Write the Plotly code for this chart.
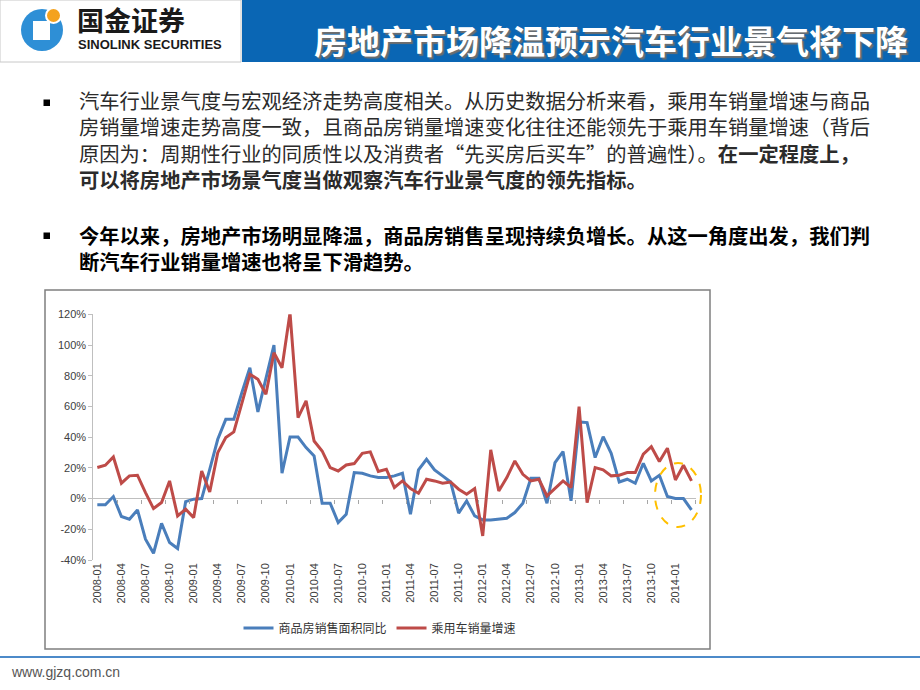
import plotly.graph_objects as go

# ---------------- data ----------------
start_year, start_month, n_months = 2008, 1, 75
months = [f"{start_year + (start_month - 1 + k) // 12}-{(start_month - 1 + k) % 12 + 1:02d}" for k in range(n_months)]

tick_labels = ["2008-01", "2008-04", "2008-07", "2008-10", "2009-01", "2009-04", "2009-07",
               "2009-10", "2010-01", "2010-04", "2010-07", "2010-10", "2011-01", "2011-04",
               "2011-07", "2011-10", "2012-01", "2012-04", "2012-07", "2012-10", "2013-01",
               "2013-04", "2013-07", "2013-10", "2014-01"]

housing_sales_yoy = [  # 商品房销售面积同比 (%)
    -4.1, -4.1, 1.3, -11.7, -13.4, -7.4, -26.5, -35.6, -16.1, -28.6, -32.5, -2.0,
    -0.4, 0.0, 19.0, 38.6, 51.6, 51.6, 69.0, 85.2, 56.4, 77.7, 100.0, 16.5,
    40.1, 40.1, 33.2, 27.8, -3.0, -3.0, -15.6, -10.2, 16.9, 16.5, 14.8, 13.7,
    13.7, 14.8, 16.5, -10.2, 18.7, 25.6, 18.7, 14.8, 10.8, -9.5, -1.5, -11.3,
    -13.9, -13.9, -13.4, -12.8, -9.1, -3.0, 13.2, 13.2, -3.0, 23.4, 30.6, -1.5,
    49.9, 49.5, 26.7, 40.3, 29.5, 10.8, 12.6, 10.0, 23.0, 11.5, 15.2, 1.3,
    0.0, 0.0, -7.4]

car_sales_growth = [  # 乘用车销量增速 (%)
    20.2, 21.7, 27.1, 10.0, 14.8, 15.2, 3.9, -6.5, -2.6, 11.5, -11.3, -6.9,
    -12.4, 18.0, 4.3, 29.9, 39.7, 43.4, 62.0, 80.9, 77.7, 67.9, 95.0, 85.2,
    121.0, 52.7, 63.6, 37.5, 31.0, 20.2, 18.0, 21.9, 22.8, 29.5, 30.4, 17.6,
    19.1, 7.2, 11.5, 6.5, 3.5, 12.6, 11.5, 10.0, 10.8, 6.1, 2.8, 6.5,
    -24.3, 31.7, 5.0, 13.7, 24.5, 15.8, 11.5, 12.6, 1.7, 6.5, 11.5, 7.2,
    59.9, -2.6, 20.2, 18.7, 14.8, 15.2, 16.9, 16.9, 28.9, 33.8, 24.1, 32.8,
    12.1, 21.7, 11.5]

series_names = ["商品房销售面积同比", "乘用车销量增速"]
y_ticks = [-40, -20, 0, 20, 40, 60, 80, 100, 120]

title_text = "房地产市场降温预示汽车行业景气将下降"
para1_lines = [
    "汽车行业景气度与宏观经济走势高度相关。从历史数据分析来看，乘用车销量增速与商品",
    "房销量增速走势高度一致，且商品房销量增速变化往往还能领先于乘用车销量增速（背后",
    "原因为：周期性行业的同质性以及消费者“先买房后买车”的普遍性）。<b>在一定程度上，</b>",
    "<b>可以将房地产市场景气度当做观察汽车行业景气度的领先指标。</b>",
]
para2_lines = [
    "<b>今年以来，房地产市场明显降温，商品房销售呈现持续负增长。从这一角度出发，我们判</b>",
    "<b>断汽车行业销量增速也将呈下滑趋势。</b>",
]

# ---------------- layout helpers ----------------
W, H = 920, 690
def px(x):
    return x / W
def py(y):
    return 1 - y / H

CJK = "Noto Sans CJK SC"
x_idx = list(range(n_months))
tick_idx = [months.index(t) for t in tick_labels]
boundary_ticks = [i - 0.5 for i in range(3, n_months + 1, 3)]

plot_top, plot_bot = 314.3, 560.0
ydom = [py(plot_bot), py(plot_top)]
zero_pos = ydom[0] + (0 - y_ticks[0]) / (y_ticks[-1] - y_ticks[0]) * (ydom[1] - ydom[0])

fig = go.Figure()
fig.add_trace(go.Scatter(x=x_idx, y=housing_sales_yoy, mode="lines", name=series_names[0],
                         line=dict(color="#4A7EBB", width=3), hoverinfo="skip"))
fig.add_trace(go.Scatter(x=x_idx, y=car_sales_growth, mode="lines", name=series_names[1],
                         line=dict(color="#BE4B48", width=3), hoverinfo="skip"))
# carrier for the category tick marks drawn on the 0% line
fig.add_trace(go.Scatter(x=x_idx, y=housing_sales_yoy, xaxis="x2", mode="lines",
                         line=dict(width=0), opacity=0, showlegend=False, hoverinfo="skip"))

shapes = [
    # header
    dict(type="rect", xref="paper", yref="paper", x0=px(0), x1=px(241), y0=py(62), y1=py(0),
         fillcolor="white", line=dict(color="#C8C8C8", width=1), layer="below"),
    dict(type="rect", xref="paper", yref="paper", x0=px(242), x1=px(920), y0=py(62), y1=py(0),
         fillcolor="#0A66B4", line=dict(width=0), layer="below"),
    # logo
    dict(type="circle", xref="paper", yref="paper", x0=px(21), x1=px(63), y0=py(51), y1=py(9),
         fillcolor="#2E8FD6", line=dict(width=0)),
    dict(type="rect", xref="paper", yref="paper", x0=px(33), x1=px(50), y0=py(40), y1=py(21),
         fillcolor="white", line=dict(width=0)),
    dict(type="circle", xref="paper", yref="paper", x0=px(46), x1=px(61), y0=py(23), y1=py(8),
         fillcolor="#F4A21E", line=dict(color="white", width=2)),
    # chart frame
    dict(type="rect", xref="paper", yref="paper", x0=px(45), x1=px(710), y0=py(649), y1=py(290),
         fillcolor="rgba(0,0,0,0)", line=dict(color="#7F7F7F", width=1.5), layer="below"),
    # highlight ellipse
    dict(type="circle", xref="paper", yref="paper", x0=px(655), x1=px(701), y0=py(527), y1=py(463),
         fillcolor="rgba(0,0,0,0)", line=dict(color="#FFC000", width=2, dash="dash")),
    # footer line
    dict(type="line", xref="paper", yref="paper", x0=0, x1=1, y0=py(657), y1=py(657),
         line=dict(color="#4C8AC9", width=2)),
    # bullets
    dict(type="rect", xref="paper", yref="paper", x0=px(43.5), x1=px(50), y0=py(106), y1=py(99.5),
         fillcolor="#000000", line=dict(width=0)),
    dict(type="rect", xref="paper", yref="paper", x0=px(43.5), x1=px(50), y0=py(239), y1=py(232.5),
         fillcolor="#000000", line=dict(width=0)),
]

annotations = [
    dict(text="<b>国金证券</b>", x=px(75), y=py(19.5), xanchor="left", yanchor="middle",
         font=dict(family=CJK, size=27, color="#1A1A1A"), showarrow=False, xref="paper", yref="paper"),
    dict(text="<b>SINOLINK SECURITIES</b>", x=px(76), y=py(44.5), xanchor="left", yanchor="middle",
         font=dict(family="Liberation Sans", size=13, color="#1A1A1A"), showarrow=False,
         xref="paper", yref="paper"),
    dict(text="<b>" + title_text + "</b>", x=px(611), y=py(40), xanchor="center", yanchor="middle",
         font=dict(family=CJK, size=33, color="white", shadow="2px 2px 1px #6E6E6E"),
         showarrow=False, xref="paper", yref="paper"),
    dict(text="www.gjzq.com.cn", x=px(9), y=py(672), xanchor="left", yanchor="middle",
         font=dict(family="Liberation Sans", size=14, color="#555555"), showarrow=False,
         xref="paper", yref="paper"),
    dict(text="<br>".join(para1_lines), x=px(77), y=py(139.8), xanchor="left", yanchor="middle",
         align="left", font=dict(family=CJK, size=20.3, color="#2B2B2B"),
         showarrow=False, xref="paper", yref="paper"),
    dict(text="<br>".join(para2_lines), x=px(77), y=py(248.5), xanchor="left", yanchor="middle",
         align="left", font=dict(family=CJK, size=20.3, color="#000000"),
         showarrow=False, xref="paper", yref="paper"),
]

fig.update_layout(
    template="none",
    width=W, height=H,
    margin=dict(l=0, r=0, t=0, b=0),
    paper_bgcolor="white", plot_bgcolor="rgba(0,0,0,0)",
    showlegend=True,
    legend=dict(orientation="h", x=px(380), xanchor="center", y=py(628), yanchor="middle",
                font=dict(family=CJK, size=12, color="#333333"), bgcolor="rgba(0,0,0,0)",
                itemwidth=30, tracegroupgap=0),
    xaxis=dict(domain=[px(93.3), px(695.5)], range=[-0.5, n_months - 0.5],
               tickvals=tick_idx, ticktext=tick_labels, tickangle=-90,
               tickfont=dict(family="Liberation Sans", size=11, color="#404040"),
               ticks="", showline=False, showgrid=False, zeroline=False),
    xaxis2=dict(overlaying="x", anchor="free", position=zero_pos, side="bottom",
                range=[-0.5, n_months - 0.5], tickvals=boundary_ticks, ticks="outside",
                ticklen=4, tickcolor="#A6A6A6", showticklabels=False, showgrid=False,
                zeroline=False, showline=False),
    yaxis=dict(domain=ydom, range=[y_ticks[0], y_ticks[-1]], tickvals=y_ticks,
               ticktext=[f"{v}%" for v in y_ticks],
               tickfont=dict(family="Liberation Sans", size=11, color="#404040"),
               showline=True, linecolor="#BFBFBF", linewidth=1, ticks="outside", ticklen=4,
               tickcolor="#BFBFBF", showgrid=False, zeroline=True, zerolinecolor="#BFBFBF",
               zerolinewidth=1),
    shapes=shapes,
    annotations=annotations,
)

fig.write_html("out.html", config={"displayModeBar": False},
               post_script="document.body.style.margin='0px';")
